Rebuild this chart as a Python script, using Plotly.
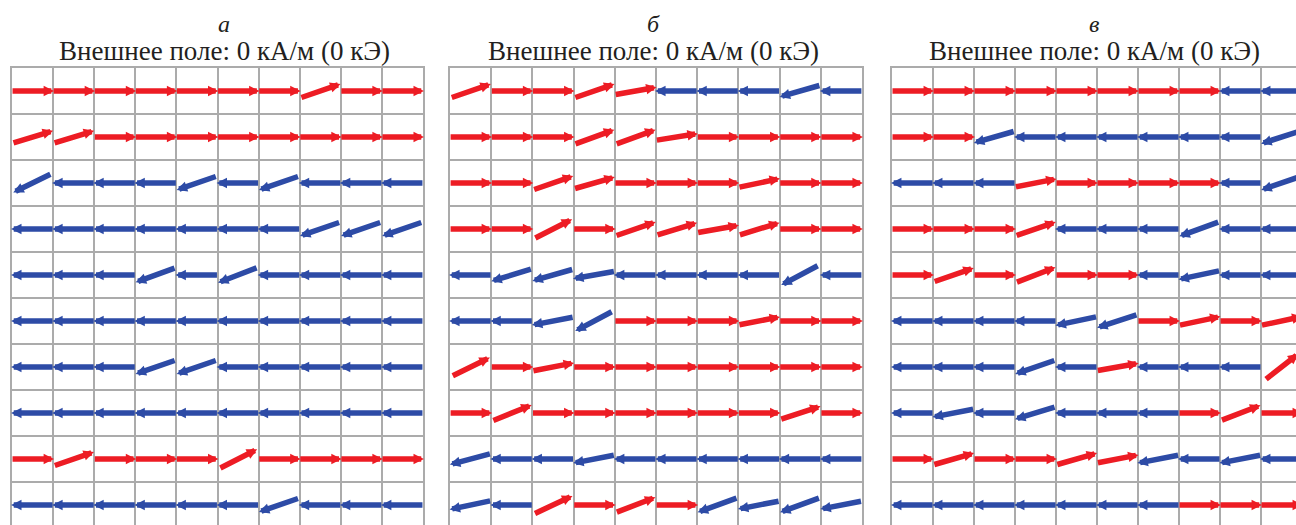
import math
import plotly.graph_objects as go

# ---- data: magnetisation direction of each cell (degrees, CCW from +x) ----
panel_labels = ["а", "б", "в"]
field_title = "Внешнее поле: 0 кА/м (0 кЭ)"

angles_a = [
    [0, 0, 0, 0, 0, 0, 0, 19, 0, 0],
    [17, 17, 0, 0, 0, 0, 0, 0, 0, 0],
    [206, 180, 180, 180, 199, 180, 199, 180, 180, 180],
    [180, 180, 180, 180, 180, 180, 180, 199, 199, 199],
    [180, 180, 180, 200, 180, 201, 180, 180, 180, 180],
    [180, 180, 180, 180, 180, 180, 180, 180, 180, 180],
    [180, 180, 180, 199, 199, 180, 180, 180, 180, 180],
    [180, 180, 180, 180, 180, 180, 180, 180, 180, 180],
    [0, 19, 0, 0, 0, 27, 0, 0, 0, 0],
    [180, 180, 180, 180, 180, 180, 199, 180, 180, 180],
]
angles_b = [
    [19, 0, 0, 19, 10, 180, 180, 180, 196, 180],
    [0, 0, 0, 20, 20, 9, 0, 0, 0, 0],
    [0, 0, 19, 16, 0, 0, 0, 12, 0, 0],
    [0, 0, 27, 0, 19, 17, 10, 17, 0, 0],
    [180, 197, 196, 190, 180, 180, 180, 180, 208, 180],
    [180, 180, 191, 208, 0, 0, 0, 11, 0, 0],
    [26, 0, 11, 0, 0, 0, 0, 0, 0, 0],
    [0, 22, 0, 0, 0, 0, 0, 0, 18, 0],
    [195, 180, 180, 191, 180, 180, 180, 180, 180, 180],
    [192, 180, 25, 0, 21, 0, 200, 191, 200, 191],
]
angles_c = [
    [0, 0, 0, 0, 0, 0, 0, 0, 180, 180],
    [0, 0, 196, 180, 180, 180, 180, 180, 180, 198],
    [180, 180, 180, 11, 0, 0, 0, 0, 180, 199],
    [0, 0, 0, 19, 180, 180, 180, 200, 180, 180],
    [0, 19, 0, 21, 0, 0, 180, 192, 180, 180],
    [180, 180, 180, 180, 192, 198, 0, 12, 0, 12],
    [180, 180, 180, 199, 180, 10, 180, 180, 180, 38],
    [180, 191, 180, 197, 180, 180, 180, 0, 21, 0],
    [0, 16, 0, 0, 16, 11, 191, 180, 191, 180],
    [180, 180, 180, 180, 180, 180, 180, 0, 0, 0],
]
panels = [angles_a, angles_b, angles_c]

# ---- layout constants (pixels) ----
FIG_W, FIG_H = 1296, 525
GRID_TOP = 68
CELL_H = 46.0
panel_left = [12, 450, 892]
panel_cell_w = [41.1, 41.2, 41.0]
title_x = [224, 653, 1094]
RED = "#ED1C24"
BLUE = "#2D4BA6"
GRID = "#ababab"
HALF = 21.5  # half arrow length in px
SERIF = "Liberation Serif, Times New Roman, DejaVu Serif, serif"

fig = go.Figure()
annotations = []
layout_axes = {}

y_span = (FIG_H - GRID_TOP) / CELL_H
for p, angles in enumerate(panels):
    sfx = "" if p == 0 else str(p + 1)
    W = panel_cell_w[p]
    left = panel_left[p]
    right = min(left + 10 * W, FIG_W)
    x_span = (right - left) / W
    nrows, ncols = len(angles), len(angles[0])
    layout_axes["xaxis" + sfx] = dict(
        domain=[left / FIG_W, right / FIG_W], range=[0, x_span],
        anchor="y" + sfx, side="top",
        tickvals=list(range(1, ncols)), showticklabels=False, ticks="",
        showgrid=True, gridcolor=GRID, gridwidth=1.6, zeroline=False,
        showline=True, linecolor=GRID, linewidth=1.6, mirror=False,
        fixedrange=True,
    )
    layout_axes["yaxis" + sfx] = dict(
        domain=[0, (FIG_H - GRID_TOP) / FIG_H], range=[y_span, 0],
        anchor="x" + sfx,
        tickvals=list(range(1, nrows)), showticklabels=False, ticks="",
        showgrid=True, gridcolor=GRID, gridwidth=1.6, zeroline=False,
        showline=True, linecolor=GRID, linewidth=1.6,
        mirror=(right - left) >= 10 * W - 0.5,
        fixedrange=True,
    )
    fig.add_trace(go.Scatter(x=[], y=[], xaxis="x" + sfx, yaxis="y" + sfx,
                             showlegend=False, hoverinfo="skip"))
    for r in range(nrows):
        for c in range(ncols):
            th = math.radians(angles[r][c])
            hx = HALF * math.cos(th) / W
            hy = HALF * math.sin(th) / CELL_H
            cx, cy = c + 0.5, r + 0.5
            color = RED if math.cos(th) > 0 else BLUE
            annotations.append(dict(
                x=cx + hx, y=cy - hy, ax=cx - hx, ay=cy + hy,
                xref="x" + sfx, yref="y" + sfx, axref="x" + sfx, ayref="y" + sfx,
                text="", showarrow=True, arrowhead=2, arrowsize=0.38,
                arrowwidth=5.5, arrowcolor=color, standoff=0, startstandoff=0,
                font=dict(size=1),
            ))
    annotations.append(dict(
        x=title_x[p] / FIG_W, y=1 - 24 / FIG_H, xref="paper", yref="paper",
        text="<i>" + panel_labels[p] + "</i>", showarrow=False,
        xanchor="center", yanchor="middle",
        font=dict(family=SERIF, size=24, color="#231f20"),
    ))
    annotations.append(dict(
        x=title_x[p] / FIG_W, y=1 - 51 / FIG_H, xref="paper", yref="paper",
        text=field_title, showarrow=False,
        xanchor="center", yanchor="middle",
        font=dict(family=SERIF, size=27, color="#231f20"),
    ))

fig.update_layout(
    width=FIG_W, height=FIG_H,
    margin=dict(l=0, r=0, t=0, b=0),
    paper_bgcolor="white", plot_bgcolor="white",
    showlegend=False,
    annotations=annotations,
    **layout_axes,
)
fig.write_html(
    "out.html",
    config={"displayModeBar": False},
    post_script="document.body.style.margin='0';document.body.style.overflow='hidden';",
)
